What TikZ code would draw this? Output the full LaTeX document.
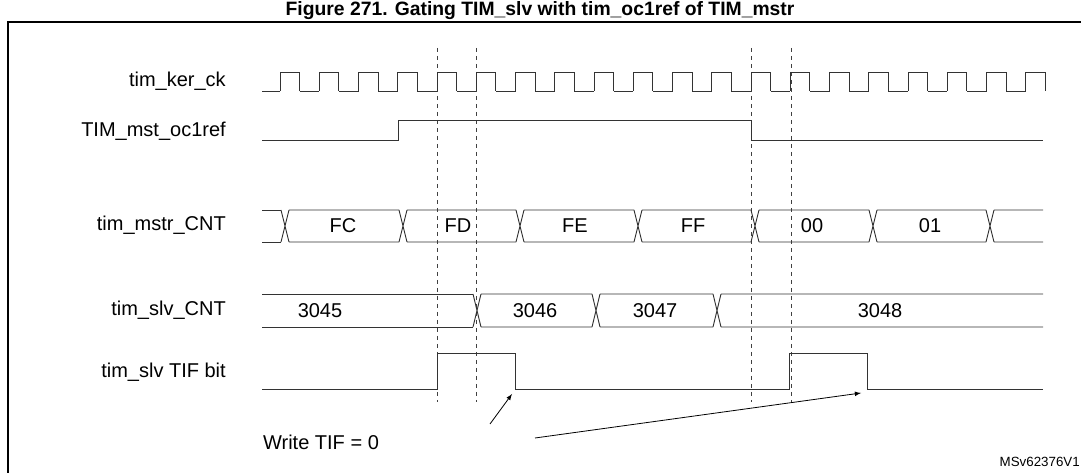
\documentclass[tikz,border=0pt]{standalone}
\usepackage{fontspec}
\setmainfont{Liberation Sans}
\usetikzlibrary{arrows}

\begin{document}
\begin{tikzpicture}[x=0.75pt,y=-0.75pt,
  sig/.style={line width=0.7pt,black!80},
  guide/.style={dashed,line width=0.5pt,black!75},
  lbl/.style={anchor=east,inner sep=0pt,font=\fontsize{15}{17}\selectfont},
  val/.style={inner sep=0pt,font=\fontsize{15}{17}\selectfont}]
\useasboundingbox (0,0) rectangle (1081,473);
\node[inner sep=0pt,font=\bfseries\fontsize{14.5}{16}\selectfont] (title) at (540,11) {Figure 271. Gating TIM\_slv with tim\_oc1ref of TIM\_mstr};
\draw[line width=1.2pt] (8,480) -- (8,22) -- (1090,22);
% signal names
\node[lbl] (nck) at (226,81) {tim\_ker\_ck};
\node[lbl] (noc) at (226,131) {TIM\_mst\_oc1ref};
\node[lbl] (nmc) at (226,225) {tim\_mstr\_CNT};
\node[lbl] (nsc) at (226,310) {tim\_slv\_CNT};
\node[lbl] (ntif) at (226,372) {tim\_slv TIF bit};
% guides
\foreach \x in {437,476,751,791}
  \draw[guide] (\x,48) -- (\x,402);
% clock
\draw[sig] (262,91) -- (280,91);
\foreach \i in {0,...,19} {
  \pgfmathsetmacro{\r}{280+39.25*\i}
  \pgfmathsetmacro{\f}{\r+19.6}
  \pgfmathsetmacro{\n}{\r+39.25}
  \draw[sig] (\r,91) -- (\r,72) -- (\f,72) -- (\f,91);
  \ifnum\i<19 \draw[sig] (\f,91) -- (\n,91); \fi
}
% oc1ref
\draw[sig] (262,140) -- (398,140) -- (398,120) -- (751,120) -- (751,140) -- (1043,140);
% master counter
\draw[sig] (262,210) -- (281,210) (262,242) -- (281,242);
\foreach \a/\b in {285/403,403/520,520/638,638/755,755/873,873/990}
  \draw[sig] (\a-4,242) -- (\a+4,210) (\a-4,210) -- (\a+4,242)
             (\a+4,210) -- (\b-4,210) (\a+4,242) -- (\b-4,242);
\draw[sig] (986,242) -- (994,210) (986,210) -- (994,242)
           (994,210) -- (1043,210) (994,242) -- (1043,242);
\node[val] (fc) at (343,226) {FC};
\node[val] (fd) at (458,226) {FD};
\node[val] (fe) at (575,226) {FE};
\node[val] (ff) at (693,226) {FF};
\node[val] (c00) at (812,226) {00};
\node[val] (c01) at (930,226) {01};
% slave counter
\draw[sig] (262,294) -- (473,294) (262,327) -- (473,327);
\foreach \a/\b in {477/596,596/717,717/1047}
  \draw[sig] (\a-4,327) -- (\a+4,294) (\a-4,294) -- (\a+4,327)
             (\a+4,294) -- (\b-4,294) (\a+4,327) -- (\b-4,327);
\node[val] (s45) at (320,311) {3045};
\node[val] (s46) at (535,311) {3046};
\node[val] (s47) at (655,311) {3047};
\node[val] (s48) at (880,311) {3048};
% TIF bit
\draw[sig] (262,389) -- (437,389) -- (437,353) -- (515,353) -- (515,389)
           -- (789,389) -- (789,353) -- (867,353) -- (867,389) -- (1043,389);
\coordinate (clr1) at (512,394);
\coordinate (clr2) at (861,393);
\node[val] (wtif) at (321,442) {Write TIF = 0};
\draw[-latex,line width=0.6pt] (490,424) -- (clr1);
\draw[-latex,line width=0.6pt] (535,438) -- (clr2);
\node[inner sep=0pt,font=\fontsize{10}{11}\selectfont,anchor=east] (ref) at (1080,462) {MSv62376V1};
\end{tikzpicture}
\end{document}
